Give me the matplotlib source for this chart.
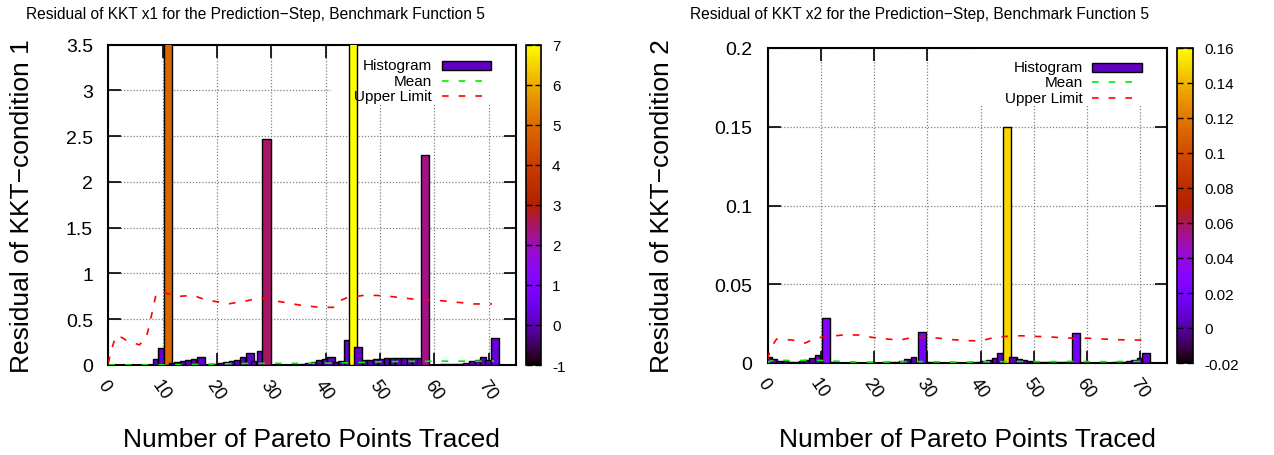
import numpy as np
import matplotlib
matplotlib.use("Agg")
import matplotlib.pyplot as plt
from matplotlib.colors import ListedColormap, Normalize
from matplotlib.cm import ScalarMappable
from matplotlib.patches import Rectangle

plt.rcParams['font.family'] = ['Liberation Sans', 'DejaVu Sans']

# ---- data: KKT x1 (left) ----
x1_pos = [8.7, 9.75, 11.0, 11.6, 12.7, 13.7, 14.7, 15.7, 17.0,
          19.7, 20.7, 21.7, 22.7, 23.7, 24.7, 26.0, 26.7, 27.8, 29.1,
          30.4, 31.4, 32.5, 33.6, 34.6, 35.8, 36.8, 37.8, 38.8, 39.8, 41.0, 41.8, 42.8, 43.8, 45.0, 46.0,
          47.2, 48.2, 49.2, 50.2, 51.2, 52.3, 53.3, 54.4, 55.4, 56.4, 57.3, 58.2,
          59.4, 60.5, 61.6, 62.6, 63.7, 64.7, 65.8, 66.9, 67.9, 68.9, 69.8, 71.2]
x1_res = [0.066, 0.186, 4.9, 0.02, 0.03, 0.044, 0.055, 0.07, 0.09,
          0.007, 0.02, 0.033, 0.04, 0.06, 0.085, 0.13, 0.045, 0.15, 2.47,
          0.005, 0.003, 0.003, 0.005, 0.005, 0.015, 0.025, 0.035, 0.05, 0.065, 0.087, 0.03, 0.04, 0.27, 7.5, 0.2,
          0.05, 0.06, 0.065, 0.07, 0.072, 0.073, 0.073, 0.073, 0.073, 0.073, 0.073, 2.3,
          0.005, 0.003, 0.01, 0.01, 0.01, 0.01, 0.02, 0.04, 0.055, 0.085, 0.06, 0.29]
x1_wide = [11.0, 17.0, 26.0, 29.1, 41.0, 45.0, 46.0, 58.2, 71.2]

x1_mean_x = [0, 5, 10, 15, 17.5, 20, 25, 30, 35, 40, 45, 50, 55, 60, 65, 71]
x1_mean = [0.0, 0.0, 0.002, 0.004, 0.008, 0.012, 0.017, 0.018, 0.018, 0.02, 0.025, 0.035, 0.04, 0.042, 0.042, 0.042]

x1_up_x = [0, 0.6, 1.4, 2.5, 3.3, 5.7, 7.0, 7.6, 8.2, 8.8, 10.3, 12.8, 15.6, 18.0, 22.3, 25.4, 27.9,
           29.7, 32.8, 35.2, 38.9, 41.4, 42.1, 43.9, 46.9, 49.4, 51.8, 56.1, 59.9, 63.5, 67.2, 70.6]
x1_up = [0.02, 0.17, 0.32, 0.30, 0.27, 0.22, 0.30, 0.45, 0.61, 0.78, 0.79, 0.75, 0.76, 0.71, 0.67, 0.70, 0.735,
         0.71, 0.68, 0.655, 0.63, 0.63, 0.69, 0.735, 0.76, 0.76, 0.75, 0.72, 0.71, 0.69, 0.667, 0.667]

# ---- data: KKT x2 (right) ----
x2_pos = [0.4, 1.2, 2.2, 3.3, 4.3, 5.3, 6.4, 7.4, 8.4, 9.4, 11.0,
          12.2, 13.2, 14.2, 15.2, 16.2, 17.2, 18.2, 19.2, 20.2, 21.2, 22.2, 23.2, 24.2, 25.2, 26.2, 27.4, 29.0,
          30.2, 31.2, 32.2, 33.2, 34.2, 35.2, 36.2, 37.2, 38.2, 39.4, 40.5, 41.6, 42.7, 43.7, 45.0, 46.0,
          47.2, 48.2, 49.2, 50.2, 51.2, 52.2, 53.2, 54.2, 55.2, 56.2, 57.0, 58.0,
          59.2, 60.2, 61.2, 62.2, 63.2, 64.2, 65.2, 66.6, 67.8, 68.8, 69.8, 71.0]
x2_res = [0.0036, 0.0025, 0.0015, 0.001, 0.0006, 0.0008, 0.0015, 0.002, 0.003, 0.005, 0.0284,
          0.0004, 0.0003, 0.0003, 0.0003, 0.0002, 0.0002, 0.0002, 0.0002, 0.0003, 0.0003, 0.0004, 0.0005, 0.0006,
          0.0012, 0.0025, 0.004, 0.02,
          0.0004, 0.0003, 0.0003, 0.0003, 0.0002, 0.0002, 0.0003, 0.0003, 0.0004, 0.0005, 0.001, 0.0019, 0.003,
          0.0063, 0.15, 0.004,
          0.0025, 0.0017, 0.001, 0.0006, 0.0004, 0.0004, 0.0004, 0.0004, 0.0004, 0.0004, 0.0005, 0.019,
          0.0003, 0.0003, 0.0003, 0.0003, 0.0003, 0.0003, 0.0004, 0.0006, 0.001, 0.0019, 0.003, 0.0063]
x2_wide = [11.0, 29.0, 45.0, 46.0, 58.0, 71.0]

x2_mean_x = [0, 0.3, 1.5, 4.3, 7.1, 9.6, 12.1, 14.6, 17.1, 22.1, 24.6, 27.4, 30.2, 35, 40, 42, 47.5, 52, 57, 62, 68, 71]
x2_mean = [0.0, 0.001, 0.002, 0.0015, 0.0017, 0.0017, 0.0013, 0.0008, 0.0006, 0.0006, 0.0008, 0.001,
           0.0008, 0.0006, 0.0006, 0.0008, 0.001, 0.0008, 0.001, 0.0008, 0.001, 0.001]

x2_up_x = [0, 0.7, 1.7, 4.6, 7.1, 9.2, 11.7, 14.2, 17.0, 19.6, 22.4, 24.9, 27.3, 29.8, 32.3, 34.8, 37.6,
           40.1, 42.6, 44.8, 47.6, 50.1, 52.5, 55.3, 57.8, 60.3, 63.1, 65.6, 68.1, 70.6]
x2_up = [0.0025, 0.010, 0.0152, 0.0146, 0.0127, 0.016, 0.0169, 0.0178, 0.0178, 0.0163, 0.0152, 0.0146, 0.0163,
         0.0163, 0.0157, 0.0148, 0.0142, 0.014, 0.0163, 0.0169, 0.0173, 0.0169, 0.0167, 0.016, 0.0157, 0.0157,
         0.0152, 0.0148, 0.0146, 0.0146]

# gnuplot default palette (rgbformulae 7,5,15)
g = np.linspace(0, 1, 256)
pal = np.column_stack([np.sqrt(g), g ** 3, np.clip(np.sin(2 * np.pi * g), 0, 1)])
cmap = ListedColormap(pal)

W = 1274
H = 456


def fx(px):
    return px / W


def fy(py):
    return 1 - py / H


fig = plt.figure(figsize=(12.74, 4.56), dpi=100)


def panel(box, cbox, xs, vals, wide, mx, my, ux, uy, ylim, yticks, ylabels, clim, cticks, clabels,
          title, title_x, ylab, ylab_x, xlab_x, key_box, key_px):
    ax = fig.add_axes(box)
    norm = Normalize(clim[0], clim[1])
    widths = [1.5 if x in wide else 1.05 for x in xs]
    ax.bar(xs, vals, width=widths, color=cmap(norm(np.array(vals))), edgecolor='black',
           linewidth=1.0, zorder=3)
    ax.plot(mx, my, color='#00ee00', lw=1.2, dashes=(4, 6), zorder=4)
    ax.plot(ux, uy, color='#ff0000', lw=1.2, dashes=(4, 6), zorder=4)
    ax.set_xlim(0, 75)
    ax.set_ylim(*ylim)
    ax.set_xticks(range(0, 71, 10))
    ax.set_xticklabels([str(v) for v in range(0, 71, 10)], rotation=-55, ha='left', va='top',
                       rotation_mode='anchor', fontsize=13)
    ax.set_yticks(yticks)
    ax.set_yticklabels(ylabels, fontsize=14)
    ax.tick_params(direction='in', length=9, width=1.2, top=True, right=True)
    ax.tick_params(axis='y', pad=11)
    ax.tick_params(axis='x', pad=8)
    ax.grid(True, color='#808080', linestyle=(0, (1, 1.5)), linewidth=0.9, zorder=0)
    ax.set_axisbelow(True)
    for s in ax.spines.values():
        s.set_linewidth(1.5)
    # white key area hides the grid
    ax.add_patch(Rectangle((key_box[0], key_box[1]), 1 - key_box[0], 1 - key_box[1],
                           transform=ax.transAxes, facecolor='white', edgecolor='none', zorder=2))
    # key
    tx, sx0, sx1, ys = key_px
    tr = fig.transFigure
    labels = ['Histogram', 'Mean', 'Upper Limit']
    for lab, yy in zip(labels, ys):
        fig.text(fx(tx), fy(yy), lab, ha='right', va='center', fontsize=11, zorder=6)
    fig.add_artist(Rectangle((fx(sx0), fy(ys[0] + 4.5)), fx(sx1 - sx0), 9 / H, transform=tr,
                             facecolor='#6000c0', edgecolor='black', lw=1.0, zorder=6))
    fig.add_artist(plt.Line2D([fx(sx0), fx(sx1)], [fy(ys[1]), fy(ys[1])], transform=tr,
                              color='#00ee00', lw=1.2, dashes=(4, 6)))
    fig.add_artist(plt.Line2D([fx(sx0), fx(sx1)], [fy(ys[2]), fy(ys[2])], transform=tr,
                              color='#ff0000', lw=1.2, dashes=(4, 6)))

    cax = fig.add_axes(cbox)
    cb = fig.colorbar(ScalarMappable(norm=norm, cmap=cmap), cax=cax)
    cb.set_ticks(cticks)
    cb.set_ticklabels(clabels)
    cax.tick_params(direction='in', length=4, width=1, left=True, right=True, labelsize=11, pad=8)
    cb.outline.set_linewidth(1.2)

    fig.text(fx(title_x), fy(14), title, ha='center', va='center', fontsize=11.2)
    y0 = box[1] + box[3] / 2
    fig.text(fx(ylab_x), y0, ylab, rotation=90, ha='center', va='center', fontsize=19)
    fig.text(fx(xlab_x), fy(440), 'Number of Pareto Points Traced', ha='center', va='center', fontsize=19)
    return ax


panel([fx(108.3), fy(366), fx(516 - 108.3), (366 - 45.7) / H],
      [fx(526), fy(366), fx(15), (366 - 45.7) / H],
      x1_pos, x1_res, x1_wide, x1_mean_x, x1_mean, x1_up_x, x1_up,
      (0, 3.5), [0, 0.5, 1, 1.5, 2, 2.5, 3, 3.5], ['0', '0.5', '1', '1.5', '2', '2.5', '3', '3.5'],
      (-1, 7), list(range(-1, 8)), [str(v) for v in range(-1, 8)],
      'Residual of KKT x1 for the Prediction\u2212Step, Benchmark Function 5', 255,
      'Residual of KKT\u2212condition 1', 22, 311,
      (0.546, 0.815), (432, 442, 491, [66, 81.7, 97.3]))

panel([fx(767.5), fy(364), fx(1167 - 767.5), (364 - 49) / H],
      [fx(1177), fy(364), fx(16), (364 - 49) / H],
      x2_pos, x2_res, x2_wide, x2_mean_x, x2_mean, x2_up_x, x2_up,
      (0, 0.2), [0, 0.05, 0.1, 0.15, 0.2], ['0', '0.05', '0.1', '0.15', '0.2'],
      (-0.02, 0.16), [-0.02, 0, 0.02, 0.04, 0.06, 0.08, 0.1, 0.12, 0.14, 0.16],
      ['-0.02', '0', '0.02', '0.04', '0.06', '0.08', '0.1', '0.12', '0.14', '0.16'],
      'Residual of KKT x2 for the Prediction\u2212Step, Benchmark Function 5', 920,
      'Residual of KKT\u2212condition 2', 662, 967,
      (0.52, 0.816), (1082.7, 1092.3, 1142.3, [68, 83.3, 99]))

fig.savefig('out.png', dpi=100)
